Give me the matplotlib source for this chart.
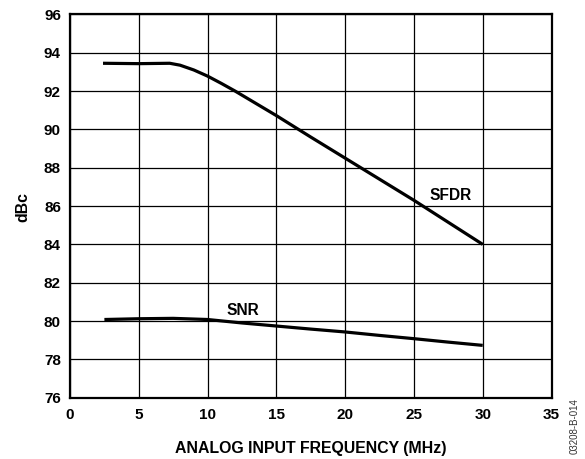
import matplotlib
matplotlib.use("Agg")
import matplotlib.pyplot as plt

plt.rcParams["font.family"] = ["Liberation Sans", "DejaVu Sans"]

W, H = 585, 459

sfdr_freq = [2.4, 5.0, 7.25, 8.0, 9.0, 10.0, 11.0, 12.0, 13.5, 15.0, 17.5, 20.0, 22.5, 25.0, 27.5, 30.0]
sfdr_db = [93.45, 93.43, 93.45, 93.35, 93.1, 92.78, 92.4, 92.0, 91.36, 90.72, 89.6, 88.5, 87.4, 86.3, 85.15, 84.0]

snr_freq = [2.5, 5.0, 7.5, 10.0, 12.5, 15.0, 17.5, 20.0, 22.5, 25.0, 27.5, 30.0]
snr_db = [80.08, 80.12, 80.14, 80.08, 79.9, 79.74, 79.58, 79.43, 79.25, 79.08, 78.9, 78.73]

x_ticks = [0, 5, 10, 15, 20, 25, 30, 35]
y_ticks = [76, 78, 80, 82, 84, 86, 88, 90, 92, 94, 96]

fig = plt.figure(figsize=(W / 100, H / 100), dpi=100)
left, right, top, bottom = 70, 551.5, 14.4, 397.7
ax = fig.add_axes([left / W, 1 - bottom / H, (right - left) / W, (bottom - top) / H])

ax.plot(sfdr_freq, sfdr_db, color="black", linewidth=2.3, solid_capstyle="butt")
ax.plot(snr_freq, snr_db, color="black", linewidth=2.3, solid_capstyle="butt")

ax.set_xlim(0, 35)
ax.set_ylim(76, 96)
ax.set_xticks(x_ticks)
ax.set_yticks(y_ticks)
ax.grid(True, color="black", linewidth=0.9)
ax.set_axisbelow(True)
for s in ax.spines.values():
    s.set_linewidth(1.6)
ax.tick_params(length=0, labelsize=11)
ax.tick_params(axis="x", pad=7.5)
ax.tick_params(axis="y", pad=6.5)
for lab in ax.get_xticklabels() + ax.get_yticklabels():
    lab.set_fontweight("bold")

ax.text(27.7, 86.54, "SFDR", fontsize=11.2, fontweight="bold", ha="center", va="center")
ax.text(12.56, 80.55, "SNR", fontsize=11.2, fontweight="bold", ha="center", va="center")

# axis titles placed in figure pixels
fig.text((left + right) / 2 / W, 1 - 448.5 / H, "ANALOG INPUT FREQUENCY (MHz)",
         fontsize=11.4, fontweight="bold", ha="center", va="center")
fig.text(23 / W, 1 - 207 / H, "dBc", rotation=90,
         fontsize=11.4, fontweight="bold", ha="center", va="center")

fig.text(575 / W, 1 - 426 / H, "03208-B-014", rotation=90, fontsize=7,
         ha="center", va="center", color="#333333")

fig.savefig("out.png", dpi=100)
